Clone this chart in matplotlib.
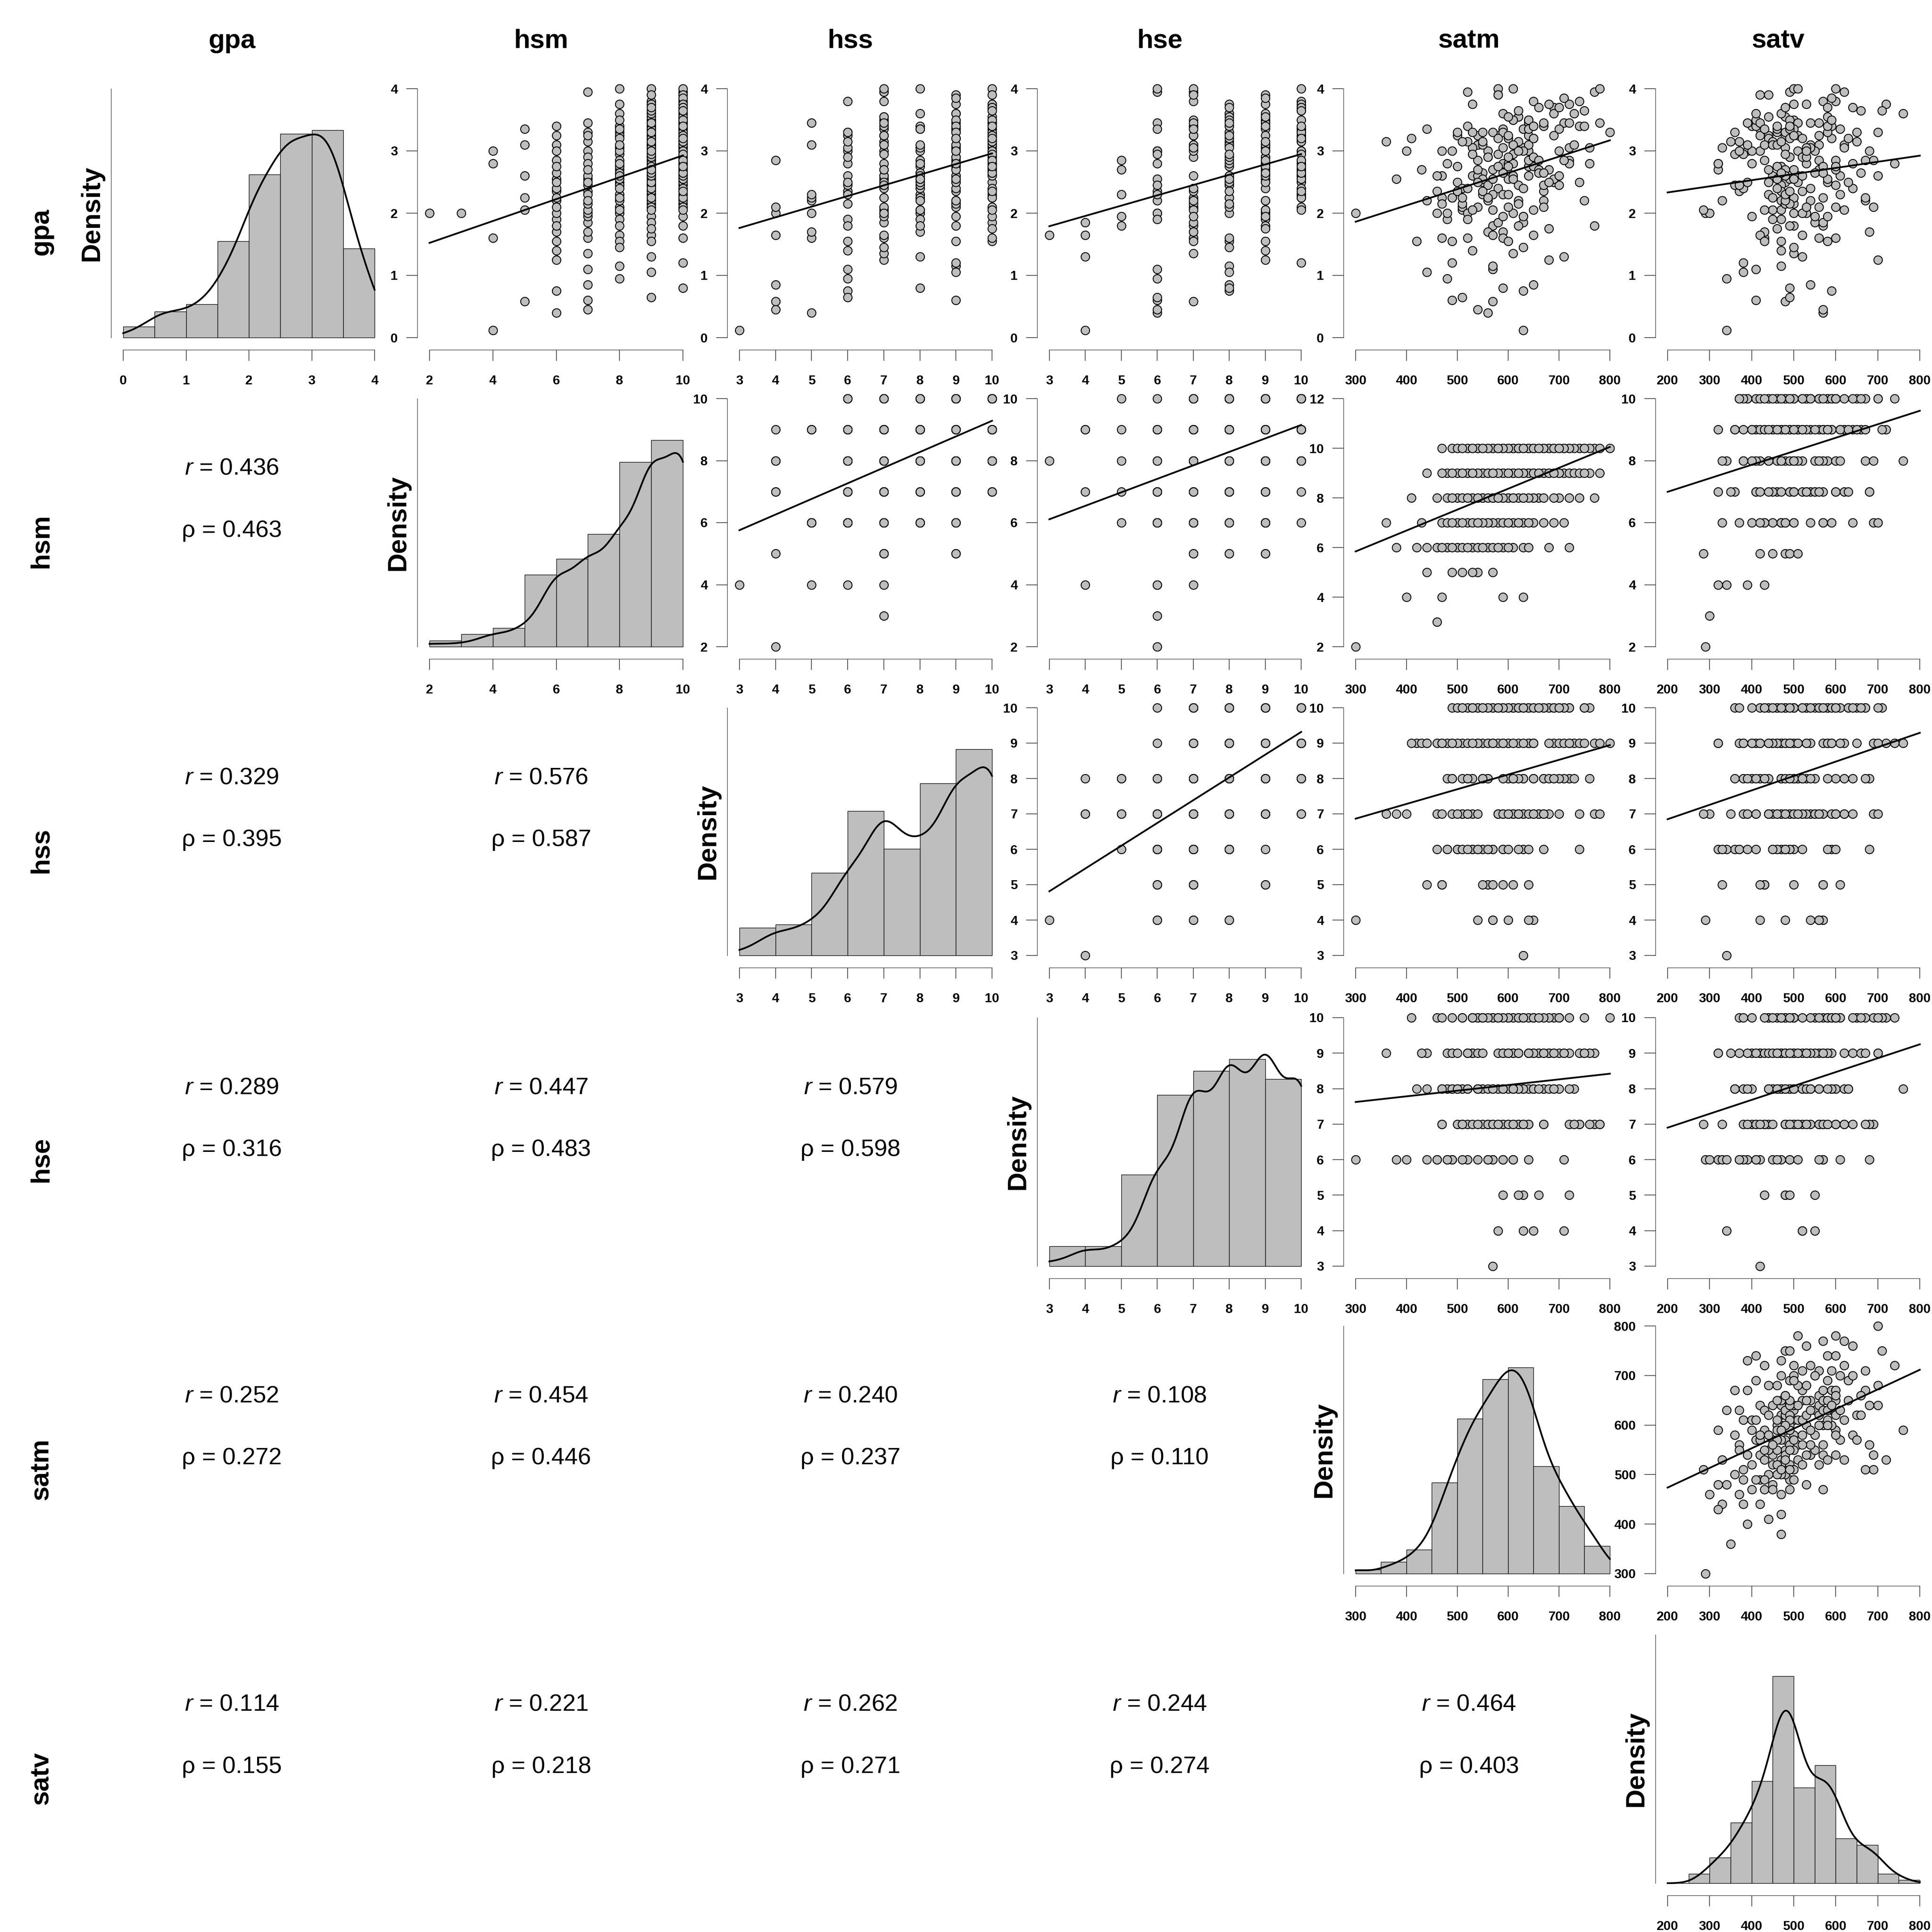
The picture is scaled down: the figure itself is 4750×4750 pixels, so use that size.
import numpy as np
import matplotlib
matplotlib.use("Agg")
import matplotlib.pyplot as plt

plt.rcParams['font.family'] = ['Liberation Sans', 'DejaVu Sans']
plt.rcParams['mathtext.fontset'] = 'custom'
plt.rcParams['mathtext.rm'] = 'Liberation Sans'
plt.rcParams['mathtext.it'] = 'Liberation Sans:italic'

variables = ["gpa", "hsm", "hss", "hse", "satm", "satv"]

# ---------------- data (224 students), rows grouped by hsm ----------------
hsm = [
    2, 3, 4, 4, 4, 4, 5, 5, 5, 5, 5, 5,
    6, 6, 6, 6, 6, 6, 6, 6, 6, 6, 6, 6, 6, 6, 6, 6, 6, 6, 6, 6, 6, 6, 6,
    7, 7, 7, 7, 7, 7, 7, 7, 7, 7, 7, 7, 7, 7, 7, 7, 7, 7, 7, 7, 7, 7, 7, 7, 7, 7, 7, 7,
    8, 8, 8, 8, 8, 8, 8, 8, 8, 8, 8, 8, 8, 8, 8, 8, 8, 8, 8, 8, 8, 8, 8, 8, 8, 8, 8, 8, 8, 8,
    8, 8, 8, 8, 8, 8,
    9, 9, 9, 9, 9, 9, 9, 9, 9, 9, 9, 9, 9, 9, 9, 9, 9, 9, 9, 9, 9, 9, 9, 9, 9, 9, 9, 9, 9, 9,
    9, 9, 9, 9, 9, 9, 9, 9, 9, 9, 9, 9, 9, 9, 9, 9, 9, 9, 9, 9, 9, 9, 9, 9, 9, 9, 9, 9, 9,
    10, 10, 10, 10, 10, 10, 10, 10, 10, 10, 10, 10, 10, 10, 10, 10, 10, 10, 10, 10,
    10, 10, 10, 10, 10, 10, 10, 10, 10, 10, 10, 10, 10, 10, 10, 10, 10, 10, 10, 10,
    10, 10, 10, 10, 10, 10, 10, 10, 10, 10, 10, 10, 10, 10, 10, 10, 10, 10, 10, 10,
    10, 10, 10, 10, 10, 10,
]

hss = [
    4, 7, 3, 5, 6, 7, 4, 7, 9, 7, 9, 7,
    5, 5, 6, 6, 5, 5, 8, 6, 6, 5, 6, 7, 7, 6, 7, 8, 7, 9, 7, 8, 9, 8, 9,
    4, 7, 4, 7, 6, 6, 6, 6, 6, 7, 7, 7, 7, 7, 7, 7, 7, 8, 8, 8, 8, 9, 9, 9, 9, 10, 10, 10,
    4, 4, 6, 6, 6, 6, 6, 7, 7, 7, 7, 7, 7, 7, 7, 8, 8, 8, 8, 8, 8, 8, 9, 9, 9, 9, 9, 9, 9, 9,
    10, 10, 10, 10, 10, 10,
    8, 7, 7, 5, 5, 6, 6, 6, 6, 4, 7, 7, 7, 7, 7, 7, 7, 5, 8, 8, 8, 8, 8, 8, 8, 8, 9, 9, 9, 9,
    9, 9, 9, 9, 9, 9, 9, 9, 9, 9, 9, 10, 10, 10, 10, 10, 10, 10, 10, 10, 10, 10, 10, 10, 10, 10, 10, 10, 10,
    8, 6, 6, 6, 7, 7, 7, 7, 7, 8, 8, 8, 8, 8, 8, 9, 9, 9, 9, 9,
    9, 9, 9, 9, 9, 9, 9, 9, 9, 9, 9, 9, 9, 10, 10, 10, 10, 10, 10, 10,
    10, 10, 10, 10, 10, 10, 10, 10, 10, 10, 10, 10, 10, 10, 10, 10, 10, 10, 10, 10,
    10, 10, 10, 10, 10, 10,
]

hse = [
    6, 6, 4, 7, 6, 6, 7, 8, 9, 7, 8, 9,
    6, 6, 6, 6, 7, 7, 5, 7, 7, 9, 8, 7, 7, 9, 8, 7, 9, 8, 6, 9, 9, 6, 10,
    6, 4, 8, 5, 6, 6, 7, 7, 8, 6, 7, 7, 8, 8, 8, 9, 9, 7, 8, 9, 10, 8, 9, 9, 6, 8, 9, 6,
    3, 7, 5, 6, 7, 7, 8, 6, 7, 7, 8, 8, 8, 9, 9, 7, 7, 8, 8, 9, 9, 10, 7, 8, 8, 9, 9, 10, 10, 10,
    7, 8, 9, 9, 10, 10,
    4, 4, 5, 6, 7, 6, 7, 7, 8, 8, 6, 7, 7, 8, 8, 9, 10, 9, 6, 7, 7, 8, 8, 9, 9, 10, 7, 7, 8, 8,
    8, 8, 9, 9, 9, 9, 9, 10, 10, 10, 10, 7, 7, 8, 8, 8, 8, 9, 9, 9, 9, 9, 9, 10, 10, 10, 10, 10, 10,
    5, 6, 7, 8, 10, 7, 7, 8, 9, 10, 7, 8, 8, 9, 10, 10, 7, 7, 8, 8,
    8, 8, 9, 9, 9, 9, 9, 10, 10, 10, 10, 10, 10, 10, 7, 7, 8, 8, 8, 8,
    8, 9, 9, 9, 9, 9, 9, 9, 9, 9, 10, 10, 10, 10, 10, 10, 10, 10, 10, 10,
    10, 10, 10, 10, 10, 10,
]

satm = [
    300, 460, 630, 470, 590, 400, 570, 490, 440, 510, 540, 530,
    560, 440, 460, 480, 590, 470, 720, 500, 570, 610, 630, 510, 580, 530, 540, 520, 680, 420,
    380, 600, 640, 490, 550,
    540, 580, 650, 630, 570, 640, 670, 560, 500, 520, 610, 590, 600, 620, 470, 600, 360, 560,
    480, 530, 550, 510, 430, 620, 490, 690, 540, 710,
    570, 600, 590, 480, 530, 600, 550, 610, 740, 580, 630, 500, 700, 660, 520, 670, 510, 650,
    490, 520, 650, 550, 560, 590, 570, 770, 690, 540, 410, 460, 620, 610, 640, 720, 630, 580,
    710, 650, 660, 570, 550, 510, 620, 540, 520, 640, 590, 610, 640, 670, 610, 620, 650, 640,
    610, 630, 560, 670, 630, 760, 680, 550, 720, 780, 730, 500, 540, 440, 480, 520, 590, 740,
    600, 470, 600, 530, 700, 570, 630, 650, 560, 580, 590, 600, 680, 700, 660, 490, 580, 510,
    570, 620, 530, 750, 690,
    620, 560, 740, 540, 600, 770, 780, 620, 670, 700, 730, 590, 610, 690, 610, 800, 580, 640,
    610, 650, 470, 570, 750, 710, 590, 640, 650, 680, 570, 630, 650, 720, 490, 600, 760, 630,
    680, 720, 690, 660, 520, 610, 600, 620, 640, 500, 710, 670, 750, 550, 530, 670, 700, 620,
    640, 650, 630, 510, 540, 560, 530, 590, 660, 580, 550, 580,
]

satv = [
    290, 300, 340, 430, 320, 390, 480, 490, 420, 285, 450, 510,
    570, 330, 370, 450, 430, 570, 430, 480, 500, 500, 590, 690, 640, 470, 540, 400, 700, 470,
    470, 470, 470, 420, 480,
    570, 550, 540, 550, 410, 680, 520, 490, 360, 490, 500, 600, 460, 600, 450, 530, 350, 680,
    530, 620, 440, 500, 320, 470, 410, 630, 420, 560,
    420, 560, 480, 340, 330, 580, 460, 380, 410, 440, 500, 440, 470, 560, 520, 670, 380, 600,
    500, 470, 470, 550, 510, 760, 470, 570, 490, 690, 440, 470, 560, 400, 500, 500, 610, 500,
    520, 520, 480, 610, 430, 490, 480, 480, 450, 560, 460, 410, 510, 590, 620, 480, 570, 420,
    510, 430, 540, 360, 480, 640, 510, 500, 620, 510, 470, 470, 530, 380, 320, 460, 400, 580,
    490, 400, 590, 720, 610, 450, 570, 630, 520, 360, 480, 570, 460, 550, 660, 430, 440, 670,
    500, 650, 580, 710, 580,
    490, 370, 600, 390, 560, 620, 600, 440, 390, 500, 390, 490, 520, 410, 580, 700, 420, 490,
    490, 580, 490, 460, 480, 590, 540, 450, 530, 440, 650, 370, 490, 740, 380, 480, 530, 580,
    530, 540, 500, 480, 560, 460, 580, 530, 700, 460, 670, 570, 490, 370, 480, 600, 640, 660,
    590, 460, 540, 470, 600, 450, 430, 470, 600, 520, 490, 600,
]

gpa = [
    2.00, 2.00, 0.12, 1.60, 2.80, 3.00, 0.58, 2.25, 3.35, 2.05, 3.10, 2.60,
    0.40, 2.20, 2.35, 1.90, 1.70, 2.25, 2.85, 3.25, 1.80, 2.00, 0.75, 2.10, 2.40, 1.40, 3.10,
    3.40, 1.25, 1.55, 2.55, 2.65, 2.75, 3.00, 2.50,
    0.45, 1.85, 0.85, 1.95, 1.10, 3.00, 2.35, 2.90, 3.30, 3.95, 1.35, 1.60, 2.55, 2.45, 2.60,
    2.80, 3.15, 1.70, 2.00, 2.05, 2.30, 2.15, 2.70, 2.20, 0.60, 2.50, 3.25, 3.45,
    1.65, 2.10, 2.30, 0.95, 3.05, 1.55, 3.30, 2.95, 3.40, 3.25, 1.45, 2.50, 2.45, 2.70, 2.00,
    2.20, 2.40, 2.75, 2.25, 1.90, 2.05, 2.65, 3.00, 3.60, 1.15, 1.80, 2.55, 2.85, 3.20, 2.60,
    3.10, 2.80, 3.50, 3.75, 3.35, 4.00,
    1.30, 1.65, 2.70, 2.30, 3.10, 0.65, 2.15, 2.60, 3.15, 2.85, 3.35, 3.50, 3.25, 3.40, 3.10,
    3.55, 3.80, 3.45, 4.00, 3.35, 2.20, 2.45, 3.05, 2.80, 2.50, 2.55, 3.05, 3.45, 3.60, 2.35,
    2.10, 1.05, 2.80, 2.40, 1.95, 2.50, 2.90, 3.00, 3.20, 3.75, 2.60, 2.05, 1.85, 3.20, 2.90,
    2.95, 3.30, 2.75, 1.75, 3.00, 2.65, 1.55, 3.90, 2.25, 2.70, 3.15, 3.30, 3.65, 3.70,
    1.80, 2.45, 3.80, 2.50, 3.25, 3.95, 4.00, 3.55, 3.45, 3.35, 3.10, 0.80, 2.60, 3.60, 2.55,
    3.30, 3.90, 3.35, 3.50, 3.40, 2.15, 2.55, 2.20, 3.85, 3.05, 3.10, 2.90, 2.70, 3.30, 3.00,
    3.20, 2.80, 1.20, 2.30, 3.05, 1.95, 3.75, 3.45, 3.25, 3.70, 1.60, 3.10, 3.55, 3.00, 2.60,
    2.75, 2.85, 2.65, 3.40, 3.15, 2.95, 2.10, 3.70, 3.65, 3.50, 3.40, 2.40, 3.15, 2.70, 2.25,
    2.05, 2.65, 2.85, 3.20, 2.35, 2.75,
]

# correlation labels shown in the lower triangle (row, column): value
r_labels = {(1, 0): "0.436", (2, 0): "0.329", (3, 0): "0.289", (4, 0): "0.252", (5, 0): "0.114",
            (2, 1): "0.576", (3, 1): "0.447", (4, 1): "0.454", (5, 1): "0.221",
            (3, 2): "0.579", (4, 2): "0.240", (5, 2): "0.262",
            (4, 3): "0.108", (5, 3): "0.244",
            (5, 4): "0.464"}
rho_labels = {(1, 0): "0.463", (2, 0): "0.395", (3, 0): "0.316", (4, 0): "0.272", (5, 0): "0.155",
              (2, 1): "0.587", (3, 1): "0.483", (4, 1): "0.446", (5, 1): "0.218",
              (3, 2): "0.598", (4, 2): "0.237", (5, 2): "0.271",
              (4, 3): "0.110", (5, 3): "0.274",
              (5, 4): "0.403"}

axis_ticks = {"gpa": [0, 1, 2, 3, 4],
              "hsm": [2, 4, 6, 8, 10],
              "hss": [3, 4, 5, 6, 7, 8, 9, 10],
              "hse": [3, 4, 5, 6, 7, 8, 9, 10],
              "satm": [300, 400, 500, 600, 700, 800],
              "satv": [200, 300, 400, 500, 600, 700, 800]}
special_y_ticks = {(1, 4): [2, 4, 6, 8, 10, 12]}
hist_breaks = {"gpa": [0, 0.5, 1, 1.5, 2, 2.5, 3, 3.5, 4],
               "hsm": [2, 3, 4, 5, 6, 7, 8, 9, 10],
               "hss": [3, 4, 5, 6, 7, 8, 9, 10],
               "hse": [3, 4, 5, 6, 7, 8, 9, 10],
               "satm": [300, 350, 400, 450, 500, 550, 600, 650, 700, 750, 800],
               "satv": [200, 250, 300, 350, 400, 450, 500, 550, 600, 650, 700, 750, 800]}

data = {"gpa": gpa, "hsm": hsm, "hss": hss, "hse": hse, "satm": satm, "satv": satv}
n = len(gpa)
for k, v in data.items():
    if len(v) != n:
        raise ValueError(f"{k} has {len(v)} values, expected {n}")

# ---------------- layout (pixels of the 4750 x 4750 canvas) ----------------
W = H = 4750
fig = plt.figure(figsize=(W / 100, H / 100), dpi=100)
fig.patch.set_facecolor("white")

x_spans = [(303, 921), (1056, 1679), (1818, 2439), (2580, 3199), (3333, 3958), (4100, 4720)]
y_spans = [(218, 830), (980, 1590), (1740, 2349), (2502, 3113), (3260, 3869), (4019, 4630)]
OFF = 30
centers = [570 + 760.4 * k for k in range(6)]

GRAY = "#BEBEBE"
AXC = "#3c3c3c"
TICK_FS = 23
LABEL_FS = 47
CORR_FS = 42


def fx(px):
    return px / W


def fy(py):
    return 1 - py / H


def fmt(t):
    return str(int(t)) if float(t).is_integer() else str(t)


def make_axes(i, j, y0, y1):
    xl, xr = x_spans[j]
    yt, yb = y_spans[i]
    left, right, top, bottom = xl - OFF, xr + OFF, yt - OFF, yb + OFF
    ax = fig.add_axes([fx(left), fy(bottom), (right - left) / W, (bottom - top) / H])
    xt = axis_ticks[variables[j]]
    sx = (xt[-1] - xt[0]) / (xr - xl)
    ax.set_xlim(xt[0] - OFF * sx, xt[-1] + OFF * sx)
    sy = (y1 - y0) / (yb - yt)
    ax.set_ylim(y0 - OFF * sy, y1 + OFF * sy)
    ax.set_facecolor("none")
    for s in ("top", "right"):
        ax.spines[s].set_visible(False)
    for s in ("left", "bottom"):
        ax.spines[s].set_color(AXC)
        ax.spines[s].set_linewidth(1.0)
    ax.spines["bottom"].set_bounds(xt[0], xt[-1])
    ax.set_xticks(xt)
    ax.set_xticklabels([fmt(t) for t in xt], fontsize=TICK_FS, fontweight="bold")
    ax.tick_params(axis="x", direction="out", length=19.5, width=1.1, color="#222222", pad=25)
    return ax


def r_hist(x, breaks):
    x = np.asarray(x, float)
    b = np.asarray(breaks, float)
    idx = np.searchsorted(b, x, side="left") - 1
    idx[x == b[0]] = 0
    counts = np.bincount(idx, minlength=len(b) - 1)[: len(b) - 1]
    return counts / (len(x) * np.diff(b))


def kde(x, lo, hi):
    x = np.asarray(x, float)
    sd = x.std(ddof=1)
    q75, q25 = np.percentile(x, [75, 25])
    bw = 0.9 * min(sd, (q75 - q25) / 1.34) * len(x) ** (-0.2)
    grid = np.linspace(lo, hi, 600)
    d = np.exp(-0.5 * ((grid[:, None] - x[None, :]) / bw) ** 2).sum(axis=1)
    return grid, d / (len(x) * bw * np.sqrt(2 * np.pi))


for i, vy in enumerate(variables):
    for j, vx in enumerate(variables):
        yt, yb = y_spans[i]
        if i == j:
            b = hist_breaks[vx]
            dens = r_hist(data[vx], b)
            top = 1.2 * dens.max()
            ax = make_axes(i, j, 0, top)
            ax.bar(b[:-1], dens, width=np.diff(b), align="edge", color=GRAY,
                   edgecolor="black", linewidth=1.0, zorder=2)
            xt = axis_ticks[vx]
            gx, gd = kde(data[vx], xt[0], xt[-1])
            ax.plot(gx, gd, color="black", lw=3.1, zorder=3)
            ax.spines["left"].set_bounds(0, top)
            ax.set_yticks([])
            fig.text(fx(x_spans[j][0] - OFF - 30), fy((yt + yb) / 2), "Density",
                     rotation=90, rotation_mode="anchor", ha="center", va="baseline",
                     fontsize=LABEL_FS, fontweight="bold")
        elif j > i:
            yticks = special_y_ticks.get((i, j), axis_ticks[vy])
            ax = make_axes(i, j, yticks[0], yticks[-1])
            x = np.asarray(data[vx], float)
            y = np.asarray(data[vy], float)
            ax.scatter(x, y, s=225, facecolor=GRAY, edgecolor="black", linewidths=1.6,
                       zorder=2, clip_on=False)
            slope, icpt = np.polyfit(x, y, 1)
            xt = axis_ticks[vx]
            lx = np.array([xt[0], xt[-1]], float)
            ax.plot(lx, icpt + slope * lx, color="black", lw=3.1, zorder=3)
            ax.spines["left"].set_bounds(yticks[0], yticks[-1])
            ax.set_yticks(yticks)
            ax.set_yticklabels([fmt(t) for t in yticks], fontsize=TICK_FS, fontweight="bold")
            ax.tick_params(axis="y", direction="out", length=19.5, width=1.1,
                           color="#222222", pad=15)
        else:
            fig.text(fx(centers[j]), fy(yt + 187), r"$r$ = " + r_labels[(i, j)],
                     ha="center", va="baseline", fontsize=CORR_FS)
            fig.text(fx(centers[j]), fy(yt + 340), "\u03c1 = " + rho_labels[(i, j)],
                     ha="center", va="baseline", fontsize=CORR_FS)

for k, name in enumerate(variables):
    fig.text(fx(centers[k]), fy(118), name, ha="center", va="baseline",
             fontsize=LABEL_FS, fontweight="bold")
    fig.text(fx(118), fy(centers[k]), name, rotation=90, rotation_mode="anchor",
             ha="center", va="baseline", fontsize=LABEL_FS, fontweight="bold")

fig.savefig("out.png", dpi=100, facecolor="white")
